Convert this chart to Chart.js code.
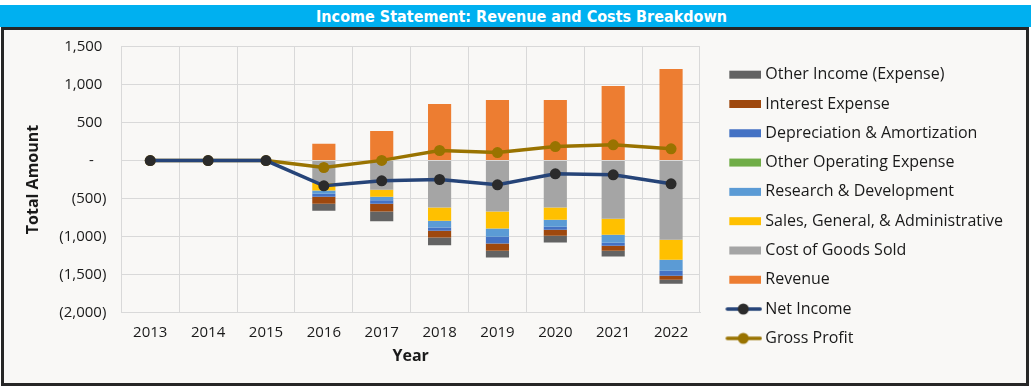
<!DOCTYPE html>
<html>
<head>
<meta charset="utf-8">
<script src="https://cdn.jsdelivr.net/npm/chart.js@4.4.1/dist/chart.umd.min.js"></script>
<style>
  body { margin: 0; background: #ffffff; width: 1031px; height: 388px; overflow: hidden; }
  #title {
    position: absolute; left: 0; top: 5px; width: 1031px; height: 22px;
    background: #00B0F0; color: #ffffff;
    font-family: "DejaVu Sans Condensed", "DejaVu Sans", sans-serif; font-stretch: condensed;
    font-weight: bold; font-size: 16px; line-height: 24px; text-align: center;
    box-sizing: border-box; padding-left: 12px;
  }
  #box {
    position: absolute; left: 1px; top: 27px; width: 1022px; height: 353px;
    border: 3px solid #262626; background: #F9F8F6;
  }
  canvas { display: block; }
</style>
</head>
<body>
<div id="title">Income Statement: Revenue and Costs Breakdown</div>
<div id="box"><canvas id="myChart" width="1022" height="353"></canvas></div>
<script>
// values
let years = ['2013', '2014', '2015', '2016', '2017', '2018', '2019', '2020', '2021', '2022'];
let revenue      = [0, 0, 0, 220, 390, 746, 799, 799, 983, 1207];
let cogs         = [0, 0, 0, -297, -385, -618, -671, -618, -767, -1043];
let sga          = [0, 0, 0, -97, -92, -175, -224, -162, -211, -263];
let rnd          = [0, 0, 0, -43, -48, -88, -110, -92, -105, -145];
let otherOpex    = [0, 0, 0, 0, 0, 0, 0, 0, 0, 0];
let dna          = [0, 0, 0, -40, -43, -44, -88, -40, -40, -66];
let interest     = [0, 0, 0, -92, -105, -88, -96, -79, -66, -53];
let otherIncome  = [0, 0, 0, -92, -128, -105, -88, -88, -75, -53];
let netIncome    = [0, 0, 0, -333, -267, -250, -320, -175, -188, -307];
let grossProfit  = [0, 0, 0, -92, 2, 132, 105, 184, 207, 154];

let yTicks = [-2000, -1500, -1000, -500, 0, 500, 1000, 1500];

Chart.defaults.font.family = "'Open Sans', sans-serif";
Chart.defaults.font.size = 15;
Chart.defaults.color = '#1a1a1a';

// little pictures for the legend (box or line with dot)
function barIcon(color) {
  let c = document.createElement('canvas');
  c.width = 52; c.height = 10;
  let g = c.getContext('2d');
  g.fillStyle = color;
  g.fillRect(20, 1, 32, 8);
  return c;
}
function lineIcon(lineColor, dotColor) {
  let c = document.createElement('canvas');
  c.width = 54; c.height = 14;
  let g = c.getContext('2d');
  g.strokeStyle = lineColor;
  g.lineWidth = 3.5;
  g.lineCap = 'round';
  g.beginPath(); g.moveTo(19, 7); g.lineTo(52, 7); g.stroke();
  g.fillStyle = dotColor;
  g.beginPath(); g.arc(35, 7, 5.5, 0, Math.PI * 2); g.fill();
  return c;
}

function bar(label, data, color) {
  return { type: 'bar', label: label, data: data, backgroundColor: color, stack: 'costs', order: 1,
           categoryPercentage: 1, barPercentage: 0.4, icon: barIcon(color) };
}
function line(label, data, color, dot, stack) {
  return { type: 'line', label: label, data: data, borderColor: color, borderWidth: 3.5,
           pointRadius: 5.5, pointHoverRadius: 5.5, pointBackgroundColor: dot, pointBorderWidth: 0,
           stack: stack, order: 0, icon: lineIcon(color, dot) };
}

let datasets = [
  bar('Revenue', revenue, '#ED7D31'),
  bar('Cost of Goods Sold', cogs, '#A5A5A5'),
  bar('Sales, General, & Administrative', sga, '#FFC000'),
  bar('Research & Development', rnd, '#5B9BD5'),
  bar('Other Operating Expense', otherOpex, '#70AD47'),
  bar('Depreciation & Amortization', dna, '#4472C4'),
  bar('Interest Expense', interest, '#9E480E'),
  bar('Other Income (Expense)', otherIncome, '#636363'),
  line('Net Income', netIncome, '#264478', '#2b2b2b', 'ni'),
  line('Gross Profit', grossProfit, '#997300', '#997300', 'gp')
];
let legendOrder = [7, 6, 5, 4, 3, 2, 1, 0, 8, 9];

const legendWidth = {
  id: 'legendWidth',
  beforeLayout(chart) {
    let lg = chart.legend;
    if (lg && !lg._wfix) {
      let fit = lg.fit;
      lg.fit = function () { fit.call(this); this.width = 326; };
      lg._wfix = true;
    }
  }
};

function fmt(v) {
  if (v === 0) return '-\u2007 ';
  if (v < 0) return '(' + Math.abs(v).toLocaleString('en-US') + ')';
  return v.toLocaleString('en-US') + ' ';
}

let ctx = document.getElementById('myChart').getContext('2d');
let chart = new Chart(ctx, {
  data: { labels: years, datasets: datasets },
  plugins: [legendWidth],
  options: {
    responsive: false,
    animation: false,
    devicePixelRatio: 1,
    layout: { padding: 0 },
    plugins: {
      tooltip: { enabled: false },
      legend: {
        position: 'right',
        align: 'center',
        labels: {
          usePointStyle: true,
          pointStyleWidth: 44,
          padding: 13.3,
          font: { size: 16 },
          color: '#1a1a1a',
          generateLabels: function (chart) {
            return legendOrder.map(function (i) {
              let ds = chart.data.datasets[i];
              return { text: ds.label, pointStyle: ds.icon, fillStyle: 'rgba(0,0,0,0)',
                       strokeStyle: 'rgba(0,0,0,0)', lineWidth: 0, hidden: false,
                       datasetIndex: i, fontColor: '#1a1a1a' };
            });
          }
        }
      }
    },
    scales: {
      x: {
        stacked: true,
        grid: { color: '#D9D9D9', drawTicks: false, offset: true },
        border: { color: '#D9D9D9' },
        ticks: { padding: 11, color: '#1a1a1a' },
        title: { display: true, text: 'Year', font: { size: 16, weight: 'bold' }, color: '#1a1a1a',
                 padding: { top: 0, bottom: 16.7 } },
        afterFit: function (s) { s.height = 70.7; }
      },
      y: {
        stacked: true,
        min: -2000, max: 1500,
        grid: { color: '#D9D9D9', drawTicks: false },
        border: { color: '#D9D9D9' },
        afterBuildTicks: function (s) { s.ticks = yTicks.map(function (v) { return { value: v }; }); },
        ticks: { padding: 15, color: '#1a1a1a', callback: fmt },
        title: { display: true, text: 'Total Amount', font: { size: 16, weight: 'bold' }, color: '#1a1a1a',
                 padding: { top: 19.4, bottom: 0 } },
        afterFit: function (s) { s.width = 117.3; s.paddingTop = 16.7; }
      }
    }
  }
});
</script>
</body>
</html>
